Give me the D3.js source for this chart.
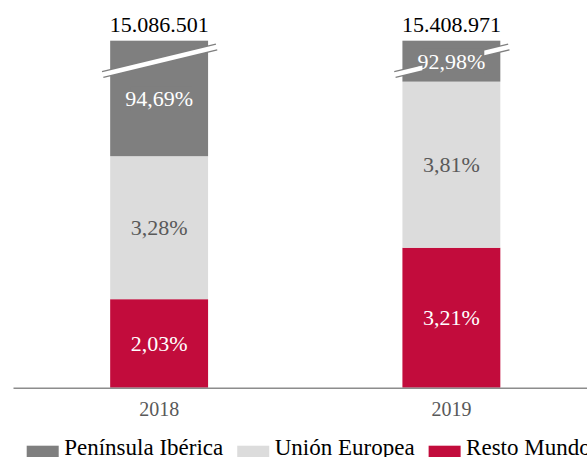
<!DOCTYPE html>
<html lang="es">
  <head>
    <meta charset="UTF-8" />
    <title>Distribución por zona</title>
    <script src="https://d3js.org/d3.v7.min.js"></script>
    <style>
      body { margin: 0; background: #fff; }
      svg { display: block; }
      svg text { font-family: "Liberation Serif", "Times New Roman", serif; }
    </style>
  </head>
  <body>
    <svg id="chart" width="587" height="457"></svg>

    <script>
      const years = ["2018", "2019"];
      const totals = [15086501, 15408971];
      const iberica = [94.69, 92.98];
      const unionEuropea = [3.28, 3.81];
      const restoMundo = [2.03, 3.21];

      const series = [
        { key: "resto", name: "Resto Mundo", values: restoMundo, color: "#c20c3c", text: "#fff" },
        { key: "ue", name: "Unión Europea", values: unionEuropea, color: "#dcdcdc", text: "#595959" },
        { key: "iberica", name: "Península Ibérica", values: iberica, color: "#7f7f7f", text: "#fff" },
      ];
      const legendOrder = ["iberica", "ue", "resto"];

      const rows = years.map((y, i) => {
        const r = { year: y };
        series.forEach((s) => (r[s.key] = s.values[i]));
        return r;
      });

      const svg = d3.select("#chart");
      const baseY = 387.7,
        topY = 40.7;

      const x = d3
        .scaleBand()
        .domain(years)
        .range([13, 597.5])
        .paddingInner(0.665)
        .paddingOuter(0.3325);

      // broken axis: the top segment is cut at the top of the plot
      const y = d3
        .scaleLinear()
        .domain([0, (baseY - topY) / 43.6])
        .range([baseY, topY])
        .clamp(true);

      const stacked = d3.stack().keys(series.map((s) => s.key))(rows);

      const fmt = d3.formatLocale({ decimal: ",", thousands: ".", grouping: [3], currency: ["", ""] });
      const fmtTotal = fmt.format(",d");
      const fmtPct = (v) => fmt.format(".2f")(v) + "%";

      // bars
      stacked.forEach((layer, li) => {
        svg
          .append("g")
          .selectAll("rect")
          .data(layer)
          .join("rect")
          .attr("x", (d) => x(d.data.year))
          .attr("width", x.bandwidth())
          .attr("y", (d) => y(d[1]))
          .attr("height", (d) => y(d[0]) - y(d[1]))
          .attr("fill", series[li].color);
      });

      // break marks on the top segment
      const brk = svg.append("g");
      years.forEach((yr) => {
        const x0 = x(yr) - 7.5,
          x1 = x(yr) + x.bandwidth() + 8.5;
        brk.append("line")
          .attr("x1", x0).attr("y1", 74.5)
          .attr("x2", x1).attr("y2", 47)
          .attr("stroke", "#7f7f7f").attr("stroke-width", 7);
        brk.append("line")
          .attr("x1", x0 - 1).attr("y1", 74.75)
          .attr("x2", x1 + 1).attr("y2", 46.75)
          .attr("stroke", "#fff").attr("stroke-width", 4.5);
      });

      // segment labels
      stacked.forEach((layer, li) => {
        const s = series[li];
        const g = svg.append("g");
        layer.forEach((d) => {
          const cx = x(d.data.year) + x.bandwidth() / 2;
          const cy = (y(d[0]) + y(d[1])) / 2;
          const t = g
            .append("text")
            .attr("x", cx)
            .attr("y", cy)
            .attr("dy", "0.35em")
            .attr("text-anchor", "middle")
            .attr("font-size", 22)
            .attr("fill", s.text)
            .text(fmtPct(d.data[s.key]));
          if (s.key === "iberica") {
            const b = t.node().getBBox();
            g.insert("rect", "text")
              .attr("x", b.x + 5)
              .attr("y", b.y)
              .attr("width", b.width - 6)
              .attr("height", b.height)
              .attr("fill", s.color);
          }
        });
      });

      // totals
      svg
        .append("g")
        .selectAll("text")
        .data(years)
        .join("text")
        .attr("x", (d) => x(d) + x.bandwidth() / 2)
        .attr("y", 31.7)
        .attr("text-anchor", "middle")
        .attr("font-size", 22)
        .attr("fill", "#000")
        .text((d, i) => fmtTotal(totals[i]));

      // x axis
      const axis = svg
        .append("g")
        .attr("transform", `translate(0,${baseY})`)
        .call(d3.axisBottom(x).tickSize(0).tickSizeOuter(0).tickPadding(14));
      axis.select(".domain").attr("stroke", "#8c8c8c").attr("stroke-width", 1.5);
      axis
        .selectAll("text")
        .attr("font-family", null)
        .attr("font-size", 20)
        .attr("fill", "#595959");

      // legend
      const legend = svg.append("g").attr("transform", "translate(26.7,445.7)");
      let lx = 0;
      legendOrder.forEach((k) => {
        const s = series.find((d) => d.key === k);
        const item = legend.append("g").attr("transform", `translate(${lx},0)`);
        item.append("rect").attr("width", 32).attr("height", 32).attr("fill", s.color);
        const t = item
          .append("text")
          .attr("x", 37.5)
          .attr("y", 9)
          .attr("font-size", 23)
          .attr("fill", "#000")
          .text(s.name);
        lx += 37.5 + t.node().getComputedTextLength() + 14;
      });
    </script>
  </body>
</html>
